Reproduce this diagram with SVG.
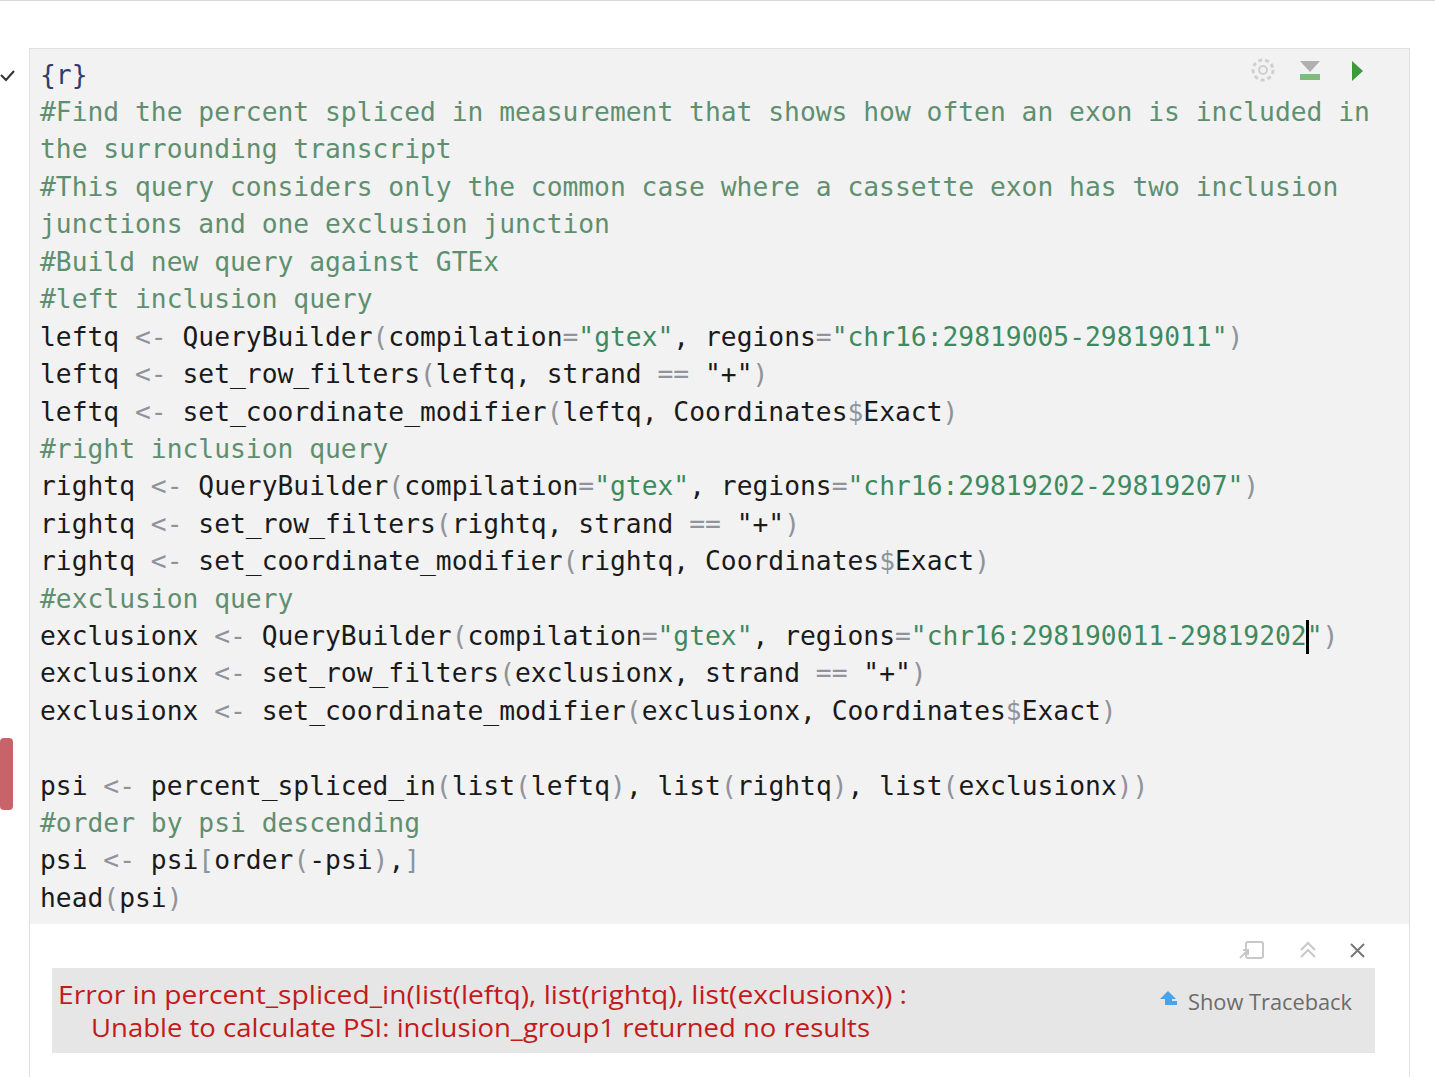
<svg xmlns="http://www.w3.org/2000/svg" width="1435" height="1077" viewBox="0 0 1435 1077">
<style>
.code{font-family:"DejaVu Sans Mono","Liberation Mono",monospace;font-size:26.3px;fill:#1a1a1a;white-space:pre}
.c{fill:#5e8f6f}.s{fill:#3d8a5e}.o{fill:#8e939c}.r{fill:#2f3d6e}
.err{font-family:"Open Sans","DejaVu Sans",sans-serif;font-size:25px;fill:#c41a1a}
</style>
<rect width="1435" height="1077" fill="#ffffff"/>
<line x1="0" y1="0.5" x2="1435" y2="0.5" stroke="#d8d8d8"/>
<rect x="29.5" y="48.5" width="1380" height="1040" fill="#ffffff" stroke="#e0e0e0"/>
<rect x="30" y="49" width="1379" height="875" fill="#f2f2f2"/>
<path d="M1 75 L6 80 L14 71" fill="none" stroke="#333" stroke-width="2"/>
<rect x="0" y="738" width="13" height="72" rx="4" fill="#c9636a"/>
<g id="toolbar">
<circle cx="1263" cy="70" r="10" fill="none" stroke="#cfcfcf" stroke-width="3" stroke-dasharray="4 3"/>
<circle cx="1263" cy="70" r="4" fill="none" stroke="#cfcfcf" stroke-width="2"/>
<path d="M1300 61 L1320 61 L1310 72 Z" fill="#b0b0b0"/>
<rect x="1300" y="74" width="20" height="6" fill="#7cbd7c"/>
<path d="M1352 61 L1363 71 L1352 81 Z" fill="#3b9b3b"/>
</g>
<text class="code" x="40">
<tspan x="40" y="84" class="r">{r}</tspan>
<tspan x="40" y="121" class="c">#Find the percent spliced in measurement that shows how often an exon is included in</tspan>
<tspan x="40" y="158" class="c">the surrounding transcript</tspan>
<tspan x="40" y="196" class="c">#This query considers only the common case where a cassette exon has two inclusion</tspan>
<tspan x="40" y="233" class="c">junctions and one exclusion junction</tspan>
<tspan x="40" y="271" class="c">#Build new query against GTEx</tspan>
<tspan x="40" y="308" class="c">#left inclusion query</tspan>
<tspan x="40" y="346">leftq <tspan class="o">&lt;-</tspan> QueryBuilder<tspan class="o">(</tspan>compilation<tspan class="o">=</tspan><tspan class="s">"gtex"</tspan>, regions<tspan class="o">=</tspan><tspan class="s">"chr16:29819005-29819011"</tspan><tspan class="o">)</tspan></tspan>
<tspan x="40" y="383">leftq <tspan class="o">&lt;-</tspan> set_row_filters<tspan class="o">(</tspan>leftq, strand <tspan class="o">==</tspan> "+"<tspan class="o">)</tspan></tspan>
<tspan x="40" y="421">leftq <tspan class="o">&lt;-</tspan> set_coordinate_modifier<tspan class="o">(</tspan>leftq, Coordinates<tspan class="o">$</tspan>Exact<tspan class="o">)</tspan></tspan>
<tspan x="40" y="458" class="c">#right inclusion query</tspan>
<tspan x="40" y="495">rightq <tspan class="o">&lt;-</tspan> QueryBuilder<tspan class="o">(</tspan>compilation<tspan class="o">=</tspan><tspan class="s">"gtex"</tspan>, regions<tspan class="o">=</tspan><tspan class="s">"chr16:29819202-29819207"</tspan><tspan class="o">)</tspan></tspan>
<tspan x="40" y="533">rightq <tspan class="o">&lt;-</tspan> set_row_filters<tspan class="o">(</tspan>rightq, strand <tspan class="o">==</tspan> "+"<tspan class="o">)</tspan></tspan>
<tspan x="40" y="570">rightq <tspan class="o">&lt;-</tspan> set_coordinate_modifier<tspan class="o">(</tspan>rightq, Coordinates<tspan class="o">$</tspan>Exact<tspan class="o">)</tspan></tspan>
<tspan x="40" y="608" class="c">#exclusion query</tspan>
<tspan x="40" y="645">exclusionx <tspan class="o">&lt;-</tspan> QueryBuilder<tspan class="o">(</tspan>compilation<tspan class="o">=</tspan><tspan class="s">"gtex"</tspan>, regions<tspan class="o">=</tspan><tspan class="s">"chr16:298190011-29819202"</tspan><tspan class="o">)</tspan></tspan>
<tspan x="40" y="682">exclusionx <tspan class="o">&lt;-</tspan> set_row_filters<tspan class="o">(</tspan>exclusionx, strand <tspan class="o">==</tspan> "+"<tspan class="o">)</tspan></tspan>
<tspan x="40" y="720">exclusionx <tspan class="o">&lt;-</tspan> set_coordinate_modifier<tspan class="o">(</tspan>exclusionx, Coordinates<tspan class="o">$</tspan>Exact<tspan class="o">)</tspan></tspan>
<tspan x="40" y="795">psi <tspan class="o">&lt;-</tspan> percent_spliced_in<tspan class="o">(</tspan>list<tspan class="o">(</tspan>leftq<tspan class="o">)</tspan>, list<tspan class="o">(</tspan>rightq<tspan class="o">)</tspan>, list<tspan class="o">(</tspan>exclusionx<tspan class="o">))</tspan></tspan>
<tspan x="40" y="832" class="c">#order by psi descending</tspan>
<tspan x="40" y="869">psi <tspan class="o">&lt;-</tspan> psi<tspan class="o">[</tspan>order<tspan class="o">(</tspan>-psi<tspan class="o">)</tspan>,<tspan class="o">]</tspan></tspan>
<tspan x="40" y="907">head<tspan class="o">(</tspan>psi<tspan class="o">)</tspan></tspan>
</text>
<rect x="1306" y="620" width="3" height="34" fill="#000"/>
<g id="output-icons" fill="none" stroke="#c8c8c8" stroke-width="2">
<rect x="1246" y="942" width="17" height="16" rx="2"/>
<path d="M1240 958 L1248 950 M1243 950 L1248 950 L1248 955"/>
<path d="M1301 950 L1308 943 L1315 950 M1301 957 L1308 950 L1315 957"/>
<path d="M1351 944 L1364 957 M1364 944 L1351 957" stroke="#777"/>
</g>
<rect x="52" y="968" width="1323" height="85" fill="#e6e6e6"/>
<text class="err" x="58" y="1004" textLength="849" lengthAdjust="spacingAndGlyphs">Error in percent_spliced_in(list(leftq), list(rightq), list(exclusionx)) :</text>
<text class="err" x="91" y="1037" textLength="779" lengthAdjust="spacingAndGlyphs">Unable to calculate PSI: inclusion_group1 returned no results</text>
<g id="traceback">
<path d="M1168 991 L1160 999 L1165 999 L1165 1005 L1177 1005 L1177 1001 L1172 1001 L1172 999 L1176 999 Z" fill="#4aa3e6"/>
<text x="1188" y="1010" font-family="Open Sans,DejaVu Sans,sans-serif" font-size="22" fill="#6b6b6b" textLength="164" lengthAdjust="spacingAndGlyphs">Show Traceback</text>
</g>
</svg>
